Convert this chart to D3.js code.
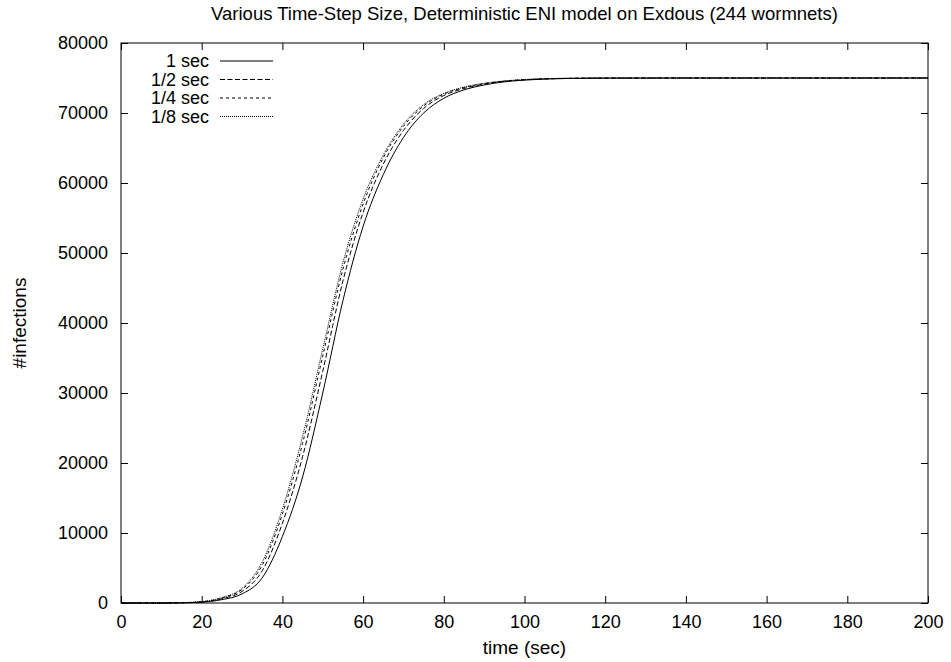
<!DOCTYPE html>
<html>
<head>
<meta charset="utf-8">
<script src="https://cdn.jsdelivr.net/npm/d3@7"></script>
<style>
  body { margin: 0; background: #fff; }
  text { font-family: "Liberation Sans", Arial, sans-serif; fill: #000; }
</style>
</head>
<body>
<div id="chart"></div>
<script>
// data (seconds, infections)
const times = [0, 10, 15, 20, 25, 30, 35, 40, 45, 50, 55, 60, 65, 70, 75, 80, 85, 90, 95, 100, 110, 120, 140, 160, 180, 200];
const step1 = [0, 0, 30, 120, 480, 1300, 3600, 9500, 18000, 30000, 43200, 53800, 61200, 66500, 70000, 72100, 73300, 74000, 74450, 74700, 74920, 74980, 75000, 75000, 75000, 75000];
const step2 = [0, 0, 38, 155, 610, 1650, 4600, 11400, 20900, 33100, 46000, 55800, 62700, 67500, 70650, 72500, 73500, 74130, 74520, 74740, 74940, 74985, 75000, 75000, 75000, 75000];
const step4 = [0, 0, 45, 180, 715, 1940, 5400, 12700, 22800, 35300, 47700, 57000, 63600, 68100, 71000, 72700, 73640, 74200, 74560, 74760, 74950, 74990, 75000, 75000, 75000, 75000];
const step8 = [0, 0, 49, 195, 780, 2100, 5850, 13400, 23800, 36300, 48600, 57700, 64000, 68400, 71200, 72800, 73700, 74240, 74580, 74780, 74955, 74990, 75000, 75000, 75000, 75000];

const seriesNames = ["1 sec", "1/2 sec", "1/4 sec", "1/8 sec"];
const seriesValues = [step1, step2, step4, step8];
const dashes = [null, "5,2.5", "3,3", "1,1"];

const xTicks = [0, 20, 40, 60, 80, 100, 120, 140, 160, 180, 200];
const yTicks = [0, 10000, 20000, 30000, 40000, 50000, 60000, 70000, 80000];

const margin = { top: 43, right: 23, bottom: 59, left: 121 },
    width = 951 - margin.left - margin.right,
    height = 662 - margin.top - margin.bottom;

const svg = d3.select("#chart")
    .append("svg")
    .attr("width", 951)
    .attr("height", 662);

const group = svg.append("g")
    .attr("transform", `translate(${margin.left},${margin.top})`);

const xScale = d3.scaleLinear().domain([0, 200]).range([0, width]);
const yScale = d3.scaleLinear().domain([0, 80000]).range([height, 0]);

// axes with inward ticks, mirrored on top and right
const tick = 7;
function styleAxis(g) {
    g.select(".domain").remove();
    g.selectAll(".tick line").attr("stroke", "#000");
    g.selectAll(".tick text")
        .attr("fill", "#000")
        .style("font-size", "18px");
}

group.append("g")
    .attr("transform", `translate(0,${height})`)
    .call(d3.axisBottom(xScale).tickValues(xTicks).tickFormat(d3.format("d"))
        .tickSizeInner(-tick).tickSizeOuter(0).tickPadding(12))
    .call(styleAxis);

group.append("g")
    .call(d3.axisTop(xScale).tickValues(xTicks).tickSizeInner(-tick).tickSizeOuter(0).tickFormat(""))
    .call(styleAxis);

group.append("g")
    .call(d3.axisLeft(yScale).tickValues(yTicks).tickFormat(d3.format("d"))
        .tickSizeInner(-tick).tickSizeOuter(0).tickPadding(13))
    .call(styleAxis);

group.append("g")
    .attr("transform", `translate(${width},0)`)
    .call(d3.axisRight(yScale).tickValues(yTicks).tickSizeInner(-tick).tickSizeOuter(0).tickFormat(""))
    .call(styleAxis);

// frame
group.append("rect")
    .attr("width", width)
    .attr("height", height)
    .attr("fill", "none")
    .attr("stroke", "#000")
    .attr("stroke-width", 1);

// curves
const line = d3.line()
    .x((d, i) => xScale(times[i]))
    .y(d => yScale(d))
    .curve(d3.curveMonotoneX);

seriesValues.forEach((vals, k) => {
    group.append("path")
        .datum(vals)
        .attr("fill", "none")
        .attr("stroke", "#000")
        .attr("stroke-width", 1)
        .attr("stroke-dasharray", dashes[k])
        .attr("d", line);
});

// legend
const legend = svg.append("g");
seriesNames.forEach((name, k) => {
    const y = 61 + k * 18.5;
    legend.append("text")
        .attr("x", 209)
        .attr("y", y)
        .attr("dy", "0.35em")
        .attr("text-anchor", "end")
        .style("font-size", "18px")
        .text(name);
    legend.append("line")
        .attr("x1", 220)
        .attr("x2", 273)
        .attr("y1", y)
        .attr("y2", y)
        .attr("stroke", "#000")
        .attr("stroke-width", 1)
        .attr("stroke-dasharray", dashes[k]);
});

// titles
svg.append("text")
    .attr("x", margin.left + width / 2)
    .attr("y", 20)
    .attr("text-anchor", "middle")
    .style("font-size", "18.5px")
    .text("Various Time-Step Size, Deterministic ENI model on Exdous (244 wormnets)");

svg.append("text")
    .attr("x", margin.left + width / 2)
    .attr("y", 654)
    .attr("text-anchor", "middle")
    .style("font-size", "19px")
    .text("time (sec)");

svg.append("text")
    .attr("transform", `translate(26,${margin.top + height / 2}) rotate(-90)`)
    .attr("text-anchor", "middle")
    .style("font-size", "19px")
    .text("#infections");
</script>
</body>
</html>
